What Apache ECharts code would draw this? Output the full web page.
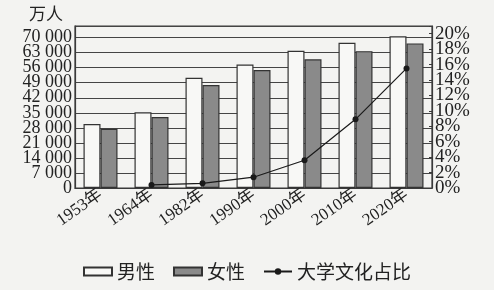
<!DOCTYPE html>
<html>
<head>
<meta charset="utf-8">
<script src="https://cdn.jsdelivr.net/npm/echarts@6/dist/echarts.min.js"></script>
<style>
html,body{margin:0;padding:0;background:#f3f3f1;}
#c{width:494px;height:290px;}
</style>
</head>
<body>
<div id="c"></div>
<script>
var categories = ['1953年', '1964年', '1982年', '1990年', '2000年', '2010年', '2020年'];
var maleValues = [29800, 35200, 51300, 57500, 63900, 67600, 70600];
var femaleValues = [27600, 33000, 47900, 54900, 59900, 63700, 67300];
var collegeShare = [null, 0.4, 0.6, 1.4, 3.6, 8.9, 15.5];
var leftTicks = [0, 7000, 14000, 21000, 28000, 35000, 42000, 49000, 56000, 63000, 70000];
var rightTicks = [0, 2, 4, 6, 8, 10, 12, 14, 16, 18, 20];

var serif = "'Liberation Serif', 'DejaVu Serif', serif";
var cjk = "'Liberation Serif', 'Noto Sans CJK SC', serif";
function fmtNum(v) {
  if (v === 0) return '0';
  var s = String(v);
  return s.slice(0, s.length - 3) + ' ' + s.slice(s.length - 3);
}
// main axes show every label but the zero; the companion axes show only the zero
function fmtLeft(v) { return (v !== 0 && leftTicks.indexOf(v) >= 0) ? fmtNum(v) : ''; }
function fmtLeftZero(v) { return v === 0 ? '0' : ''; }
function fmtRight(v) { return (v !== 0 && rightTicks.indexOf(v) >= 0) ? v + '%' : ''; }
function fmtRightZero(v) { return v === 0 ? '0%' : ''; }

var leftLabel = {margin: 3, fontFamily: serif, fontSize: 18, color: '#222', hideOverlap: false};
var rightLabel = {margin: 3, fontFamily: serif, fontSize: 19, color: '#222', hideOverlap: false};
var chart = echarts.init(document.getElementById('c'));
chart.setOption({
  animation: false,
  backgroundColor: '#f3f3f1',
  grid: {left: 75, right: 62, top: 26, bottom: 102, show: true, borderColor: '#3a3a3a', borderWidth: 1.2},
  legend: {
    left: 'center', top: 257, itemWidth: 28, itemHeight: 8, itemGap: 18,
    textStyle: {fontFamily: "'Noto Sans CJK SC'", fontSize: 19, color: '#222'},
    data: [
      {name: '男性', icon: 'rect'},
      {name: '女性', icon: 'rect'},
      {name: '大学文化占比'}
    ]
  },
  xAxis: {
    type: 'category', data: categories,
    axisLine: {lineStyle: {color: '#3a3a3a', width: 1.2}},
    axisTick: {inside: true, length: 4, lineStyle: {color: '#3a3a3a'}},
    axisLabel: {rotate: 35, margin: 5, fontFamily: cjk, fontSize: 17, color: '#222', hideOverlap: false}
  },
  yAxis: [{
    type: 'value', min: 0, max: 75400, interval: 7000, position: 'left',
    name: '万人', nameGap: 4,
    nameTextStyle: {fontFamily: "'Noto Sans CJK SC'", fontSize: 17, color: '#222', align: 'right', padding: [0, 12, 0, 0]},
    axisLine: {show: true, lineStyle: {color: '#3a3a3a', width: 1.2}},
    axisTick: {show: false},
    splitLine: {lineStyle: {color: '#444', width: 1.2}},
    axisLabel: Object.assign({formatter: fmtLeft}, leftLabel)
  }, {
    type: 'value', min: 0, max: 75400, interval: 7000, position: 'left', offset: 0,
    axisLine: {show: false}, axisTick: {show: false}, splitLine: {show: false},
    axisLabel: Object.assign({formatter: fmtLeftZero}, leftLabel)
  }, {
    type: 'value', min: 0, max: 21, interval: 2, position: 'right',
    axisLine: {show: true, lineStyle: {color: '#3a3a3a', width: 1.2}},
    axisTick: {show: true, inside: true, length: 3, lineStyle: {color: '#3a3a3a'}},
    splitLine: {show: false},
    axisLabel: Object.assign({formatter: fmtRight}, rightLabel)
  }, {
    type: 'value', min: 0, max: 21, interval: 2, position: 'right', offset: 0,
    axisLine: {show: false}, axisTick: {show: false}, splitLine: {show: false},
    axisLabel: Object.assign({formatter: fmtRightZero}, rightLabel)
  }],
  series: [{
    name: '男性', type: 'bar', data: maleValues, barWidth: 17, barGap: '0%',
    itemStyle: {color: '#f8f8f6', borderColor: '#333', borderWidth: 1.2}
  }, {
    name: '女性', type: 'bar', data: femaleValues, barWidth: 17,
    itemStyle: {color: '#8a8a8a', borderColor: '#333', borderWidth: 1.2}
  }, {
    name: '大学文化占比', type: 'line', yAxisIndex: 2, data: collegeShare,
    symbol: 'circle', symbolSize: 6, connectNulls: false,
    lineStyle: {color: '#1a1a1a', width: 1.2},
    itemStyle: {color: '#1a1a1a'}
  }]
});
</script>
</body>
</html>
